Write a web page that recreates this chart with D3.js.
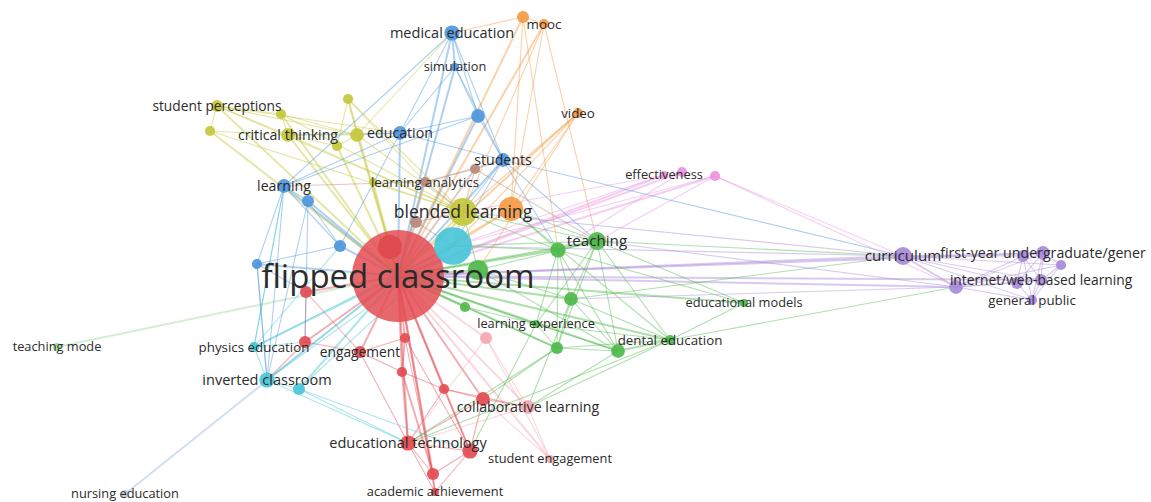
<!DOCTYPE html>
<html>
<head>
<meta charset="utf-8">
<script src="https://cdn.jsdelivr.net/npm/d3@7"></script>
<style>
	html, body { margin: 0; background: #fff; }
	svg { display: block; }
</style>
</head>
<body>
<div id="chart"></div>
<script>
// node rows: [id, label ("" = label hidden), map x, map y, occurrences]
const redNodes = [
	["fc", "flipped classroom", -0.355, 0.050, 180],
	["fcx", "", -0.371, -0.008, 14],
	["eng", "engagement", -0.431, 0.202, 4],
	["r1", "", -0.541, 0.182, 4],
	["r2", "", -0.539, 0.082, 4],
	["r3", "", -0.341, 0.174, 3],
	["r4", "", -0.347, 0.242, 3],
	["r5", "", -0.263, 0.276, 3],
	["r6", "", -0.185, 0.296, 5],
	["et", "educational technology", -0.335, 0.384, 6],
	["r7", "", -0.211, 0.400, 6],
	["r8", "", -0.285, 0.446, 4],
	["aa", "academic achievement", -0.281, 0.482, 2]
];
const greenNodes = [
	["tch", "teaching", 0.043, -0.020, 8],
	["g1", "", -0.035, -0.002, 6],
	["g2", "", -0.009, 0.096, 5],
	["g3", "", -0.037, 0.194, 4],
	["g4", "", 0.085, 0.200, 5],
	["de", "dental education", 0.189, 0.178, 3],
	["le", "learning experience", -0.079, 0.146, 2],
	["g5", "", -0.221, 0.112, 3],
	["g6", "", -0.195, 0.038, 10],
	["em", "educational models", 0.337, 0.104, 2]
];
const blueNodes = [
	["me", "medical education", -0.247, -0.436, 6],
	["sim", "simulation", -0.241, -0.368, 2],
	["b1", "", -0.195, -0.270, 5],
	["edu", "education", -0.351, -0.236, 5],
	["stu", "students", -0.145, -0.182, 5],
	["lrn", "learning", -0.583, -0.130, 5],
	["b2", "", -0.535, -0.100, 4],
	["b3", "", -0.471, -0.010, 4],
	["b4", "", -0.637, 0.026, 3]
];
const oliveNodes = [
	["bl", "blended learning", -0.225, -0.078, 18],
	["sp", "student perceptions", -0.717, -0.290, 4],
	["y1", "", -0.731, -0.240, 3],
	["y2", "", -0.589, -0.274, 3],
	["ct", "critical thinking", -0.575, -0.232, 5],
	["y3", "", -0.455, -0.304, 3],
	["y4", "", -0.477, -0.210, 3],
	["y5", "", -0.437, -0.232, 5],
	["y6", "", -0.405, -0.138, 2]
];
const purpleNodes = [
	["cur", "curriculum", 0.655, 0.010, 8],
	["p1", "", 0.761, 0.072, 5],
	["p2", "", 0.895, 0.010, 4],
	["fy", "first-year undergraduate/gener", 0.935, 0.004, 5],
	["p3", "", 0.971, 0.028, 3],
	["p4", "", 0.883, 0.064, 4],
	["iw", "internet/web-based learning", 0.931, 0.058, 4],
	["gp", "general public", 0.913, 0.098, 3]
];
const cyanNodes = [
	["al", "", -0.245, -0.010, 32],
	["pe", "physics education", -0.643, 0.192, 3],
	["ic", "inverted classroom", -0.617, 0.258, 6],
	["c1", "", -0.553, 0.276, 4]
];
const orangeNodes = [
	["or1", "", -0.129, -0.084, 14],
	["or2", "", -0.105, -0.468, 4],
	["mooc", "mooc", -0.063, -0.454, 3],
	["vid", "video", 0.005, -0.276, 3]
];
const brownNodes = [
	["br1", "", -0.319, -0.058, 4],
	["la", "learning analytics", -0.301, -0.138, 3],
	["br2", "", -0.201, -0.164, 3]
];
const pinkNodes = [
	["eff", "effectiveness", 0.177, -0.152, 2],
	["pk0", "", 0.213, -0.158, 3],
	["pk", "", 0.279, -0.150, 3]
];
const lightPinkNodes = [
	["cl", "collaborative learning", -0.095, 0.312, 5],
	["se", "student engagement", -0.051, 0.416, 2],
	["lp1", "", -0.179, 0.174, 4]
];
const lightGreenNodes = [["tm", "teaching mode", -1.037, 0.192, 2]];
const lightBlueNodes = [["ne", "nursing education", -0.901, 0.486, 2]];

// links: [source, target, strength]
const hubLinks = ["eng","r1","r2","r3","r4","r5","r6","et","r7","r8","aa","cl","se","lp1","fcx",
	"al","bl","or1","br1","tch","g1","g2","g3","g4","de","le","g5","g6","em","tm","me","sim","b1",
	"edu","stu","lrn","b2","b3","b4","ne","sp","y1","y2","ct","y3","y4","y5","y6","la","br2","or2",
	"mooc","vid","eff","pk0","pk","cur","p1","iw","fy","pe","ic","c1"];
const clusterLinks = [
	["r1","eng",1],["r1","r2",1],["r1","ic",1],["r1","pe",1],["r2","b4",1],["r2","eng",1],["eng","r3",1],
	["eng","r4",1],["eng","et",1],["r3","r4",2],["r3","r8",1],["r4","et",2],["r4","r5",1],["r4","r8",2],
	["r5","r6",1],["r5","et",1],["r5","cl",1],["r5","r7",1],["r6","cl",1],["r6","r7",1],["r6","et",1],
	["r6","se",1],["r7","et",1],["r7","r8",1],["r7","aa",1],["r8","et",1],["r8","aa",1],["et","aa",1],
	["et","cl",1],["cl","se",1],["lp1","cl",1],["lp1","se",1],["lp1","et",1],["r3","r7",1],
	["al","ic",1],["al","pe",1],["al","c1",1],["al","bl",2],["al","tch",1],["al","g1",1],["al","stu",1],
	["al","or1",1],["ic","pe",1],["ic","c1",1],["c1","et",1],["c1","r7",1],["ic","et",1],["ic","ne",1],
	["pe","lrn",1],["ic","b4",1],["pe","b3",1],
	["tch","g1",2],["tch","g2",1],["tch","g3",1],["tch","g4",1],["tch","de",1],["tch","le",1],
	["tch","g6",1],["g1","g2",1],["g1","g3",1],["g1","le",1],["g1","g4",1],["g2","g4",1],["g2","de",1],
	["g2","g3",1],["g3","g4",1],["g3","de",1],["g4","de",2],["g4","le",1],["le","g5",1],["le","de",1],
	["g6","g4",1],["g6","g2",1],["g3","le",1],["de","em",1],["tch","em",1],["g1","em",1],["de","et",1],
	["de","cl",1],["g4","cl",1],["g3","r6",1],["g3","et",1],["g2","cl",1],["le","r7",1],["g5","g3",1],
	["tch","cur",1],["tch","p1",1],["de","p1",1],["g2","cur",1],
	["me","sim",2],["me","edu",1],["me","b1",1],["me","stu",1],["me","or2",1],["me","lrn",1],["me","y5",1],
	["sim","b1",1],["sim","stu",1],["sim","edu",1],["b1","stu",1],["b1","edu",1],["b1","lrn",1],
	["edu","stu",1],["edu","lrn",1],["edu","b3",1],["edu","y5",1],["edu","ct",1],["edu","sp",1],
	["stu","bl",1],["stu","g1",1],["stu","tch",1],["stu","cur",1],["stu","la",1],["lrn","b2",1],
	["lrn","b4",1],["lrn","b3",1],["lrn","ic",1],["lrn","pe",1],["lrn","la",1],["b2","b3",1],
	["b2","ic",1],["b3","b4",1],["b4","ic",1],["b2","r1",1],
	["sp","y1",1],["sp","y2",1],["sp","ct",1],["sp","y5",1],["y1","ct",1],["y2","ct",1],["y2","y5",1],
	["ct","y5",1],["ct","y4",1],["y3","y5",1],["y3","y4",1],["y3","bl",1],["y3","la",1],["y4","y5",1],
	["y5","bl",1],["y6","bl",1],["y6","la",1],["bl","g1",1],["bl","tch",1],["bl","g6",1],["la","bl",1],
	["ct","bl",1],["sp","bl",1],["y1","bl",1],["y2","bl",1],
	["or2","mooc",1],["or2","or1",1],["or2","g1",1],["mooc","bl",1],["mooc","tch",1],["mooc","or1",1],
	["vid","or1",1],["vid","bl",1],["vid","g6",1],["vid","al",1],["or1","tch",1],["or1","g1",1],
	["or1","de",1],
	["br1","bl",1],["br1","al",1],["br2","stu",1],["br2","bl",1],["br2","la",1],["br2","tch",1],
	["eff","bl",1],["eff","pk0",1],["pk","cur",1],["pk","p1",1],["pk","tch",1],["pk0","g1",1],
	["eff","al",1],["pk","al",1],
	["cur","fy",1],["cur","iw",1],["cur","p1",2],["cur","p2",1],["cur","p3",1],["cur","gp",1],
	["cur","p4",1],["p1","fy",1],["p1","iw",1],["p1","p2",1],["p1","gp",1],["p1","p3",1],["p1","p4",1],
	["fy","p2",1],["fy","p3",1],["fy","iw",1],["fy","gp",1],["iw","p4",1],["iw","gp",1],["p2","iw",1],
	["p2","gp",1],["p3","gp",1],["p3","iw",1],["p4","gp",1],["p2","p4",1],["fy","p4",1],["cur","bl",1],
	["p1","g2",1],["cur","al",1]
];

const groups = [
	[redNodes, "#e34c52"], [greenNodes, "#4fb94b"], [blueNodes, "#4e96dc"],
	[oliveNodes, "#c4c83a"], [purpleNodes, "#a88ad9"], [cyanNodes, "#49c5d8"],
	[orangeNodes, "#f59b45"], [brownNodes, "#b9887b"], [pinkNodes, "#eb92e0"],
	[lightPinkNodes, "#f3a8b2"], [lightGreenNodes, "#a2d99b"], [lightBlueNodes, "#b9c9ec"]
];

const width = 1151, height = 502;

const nodes = [];
groups.forEach(function(g) {
	g[0].forEach(function(d) {
		nodes.push({id: d[0], label: d[1], mx: d[2], my: d[3], w: d[4], color: g[1]});
	});
});
const byId = {};
nodes.forEach(function(n) { byId[n.id] = n; });

const links = hubLinks.map(function(t) { return ["fc", t, 2]; }).concat(clusterLinks);

const x = d3.scaleLinear().domain([-1.151, 1.151]).range([0, width]);
const y = d3.scaleLinear().domain([-0.502, 0.502]).range([0, height]);
const r = d3.scalePow().exponent(0.5).domain([2, 180]).range([4, 46]);
const fontSize = d3.scaleLinear().domain([4, 46]).range([12.8, 33]);
const strokeW = d3.scaleLinear().domain([1, 2]).range([1.1, 2]);

const svg = d3.select("#chart").append("svg")
	.attr("width", width)
	.attr("height", height);

// links first, coloured like the lighter (smaller) end
svg.append("g")
	.selectAll("line")
	.data(links)
	.enter().append("line")
	.attr("x1", function(d) { return x(byId[d[0]].mx); })
	.attr("y1", function(d) { return y(byId[d[0]].my); })
	.attr("x2", function(d) { return x(byId[d[1]].mx); })
	.attr("y2", function(d) { return y(byId[d[1]].my); })
	.attr("stroke", function(d) {
		const a = byId[d[0]], b = byId[d[1]];
		return a.w <= b.w ? a.color : b.color;
	})
	.attr("stroke-opacity", 0.45)
	.attr("stroke-width", function(d) { return strokeW(d[2]); });

// nodes, biggest first so small ones stay visible; the hidden one sits under the hub
const sorted = nodes.slice().sort(function(a, b) { return b.w - a.w; });
const order = [byId.fcx].concat(sorted.filter(function(d) { return d.id !== "fcx"; }));
svg.append("g")
	.selectAll("circle")
	.data(order)
	.enter().append("circle")
	.attr("cx", function(d) { return x(d.mx); })
	.attr("cy", function(d) { return y(d.my); })
	.attr("r", function(d) { return r(d.w); })
	.attr("fill", function(d) { return d.id === "fcx" ? "#c8373d" : d.color; })
	.attr("fill-opacity", function(d) { return d.id === "fc" ? 0.85 : 0.92; });

svg.append("g")
	.selectAll("text")
	.data(sorted.filter(function(d) { return d.label !== ""; }))
	.enter().append("text")
	.attr("x", function(d) { return x(d.mx); })
	.attr("y", function(d) { return y(d.my); })
	.attr("dy", "0.35em")
	.attr("text-anchor", "middle")
	.attr("font-family", "'Open Sans', sans-serif")
	.attr("font-size", function(d) { return fontSize(r(d.w)) + "px"; })
	.attr("fill", "#2b2b2b")
	.text(function(d) { return d.label; });
</script>
</body>
</html>
